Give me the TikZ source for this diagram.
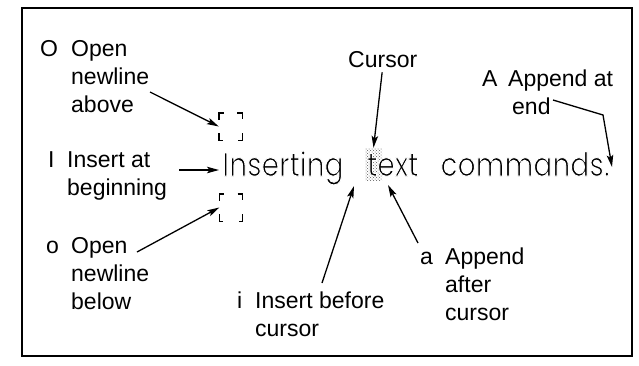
\documentclass[tikz,border=0pt]{standalone}
\usepackage{fontspec}
\setmainfont{Liberation Sans}
\newfontfamily\cmdfam[FakeStretch=0.85]{Poppins}
\usetikzlibrary{arrows.meta,patterns}
\newcommand\cmdfont{\cmdfam\fontsize{33}{33}\selectfont}
\newcommand\thintext[1]{\special{pdf:literal direct 2 Tr 1 1 1 RG 0.95 w}#1\special{pdf:literal direct 0 Tr 0 0 0 RG 0.4 w}}
\begin{document}
\begin{tikzpicture}[x=1pt,y=-1pt,
  lbl/.style={anchor=base west, inner sep=0pt, font=\fontsize{23}{28}\selectfont},
  big/.style={anchor=base west, inner sep=0pt, font=\cmdfont},
  arr/.style={line width=1.3pt, -{Stealth[length=12pt,width=6.5pt,inset=2.5pt]}},
  slot/.style={minimum width=23pt, minimum height=27pt, inner sep=0pt},
  corner/.style={line width=1.4pt},
  curbox/.style={minimum width=17pt, minimum height=32pt, inner sep=0pt,
    pattern=crosshatch dots, pattern color=black!65}]

\useasboundingbox (0,0) rectangle (639,365);
\draw[line width=1.6pt] (22,8) rectangle (632,356);

% labels
\node[lbl] (O)  at (40,56)  {O};
\node[lbl] (O1) at (71,56)  {Open};
\node[lbl] (O2) at (71,84)  {newline};
\node[lbl] (O3) at (71,112) {above};

\node[lbl] (I)  at (48,167) {I};
\node[lbl] (I1) at (67,167) {Insert at};
\node[lbl] (I2) at (67,195) {beginning};

\node[lbl] (o)  at (46,253) {o};
\node[lbl] (o1) at (71,253) {Open};
\node[lbl] (o2) at (71,281) {newline};
\node[lbl] (o3) at (71,309) {below};

\node[lbl] (i)  at (237,308) {i};
\node[lbl] (i1) at (255,308) {Insert before};
\node[lbl] (i2) at (255,336) {cursor};

\node[lbl] (a)  at (420,264) {a};
\node[lbl] (a1) at (445,264) {Append};
\node[lbl] (a2) at (445,292) {after};
\node[lbl] (a3) at (445,320) {cursor};

\node[lbl] (C)  at (348,67) {Cursor};

\node[lbl] (A)  at (482,86)  {A};
\node[lbl] (A1) at (508,86)  {Append at};
\node[lbl] (A2) at (512,114) {end};

% the text line
\node[curbox] (cur) at (373.5,164) {};
\node[big] (ins) at (222,176) {\thintext{Inserting}};
\node[big] (txt) at (367,176) {\thintext{text}};
\node[big, anchor=base east] (cmd) at (610,176) {\thintext{commands.}};

% new line slots
\node[slot] (s1) at (230.5,126.5) {};
\node[slot] (s2) at (231,207.5) {};
\foreach \s in {s1,s2}{
  \draw[corner] (\s.north west) ++(0,7) -- ++(0,-7) -- ++(5,0);
  \draw[corner] (\s.north east) ++(-5,0) -- ++(5,0) -- ++(0,6);
  \draw[corner] (\s.south west) ++(0,-7) -- ++(0,7) -- ++(4,0);
  \draw[corner] (\s.south east) ++(0,-7) -- ++(0,7) -- ++(-4,0);
}

% connector ends
\coordinate (pO) at (150,92);
\coordinate (pI) at (179,170);
\coordinate (po) at (137,252);
\coordinate (pi) at (322,283);
\coordinate (ti) at (354,186);
\coordinate (pa) at (418,243);
\coordinate (ta) at (388,185);
\coordinate (pA) at (553,100);
\coordinate (kA) at (603,115);
\coordinate (tA) at (612,167);

\draw[arr] (pO) -- (s1.west);
\draw[arr, shorten >=3pt] (pI) -- (pI -| ins.west);
\draw[arr] (po) -- (s2.west);
\draw[arr, shorten <=5pt] (C.south) -- (cur.north);
\draw[arr] (pi) -- (ti);
\draw[arr] (pa) -- (ta);
\draw[arr] (pA) -- (kA) -- (tA);
\end{tikzpicture}
\end{document}
